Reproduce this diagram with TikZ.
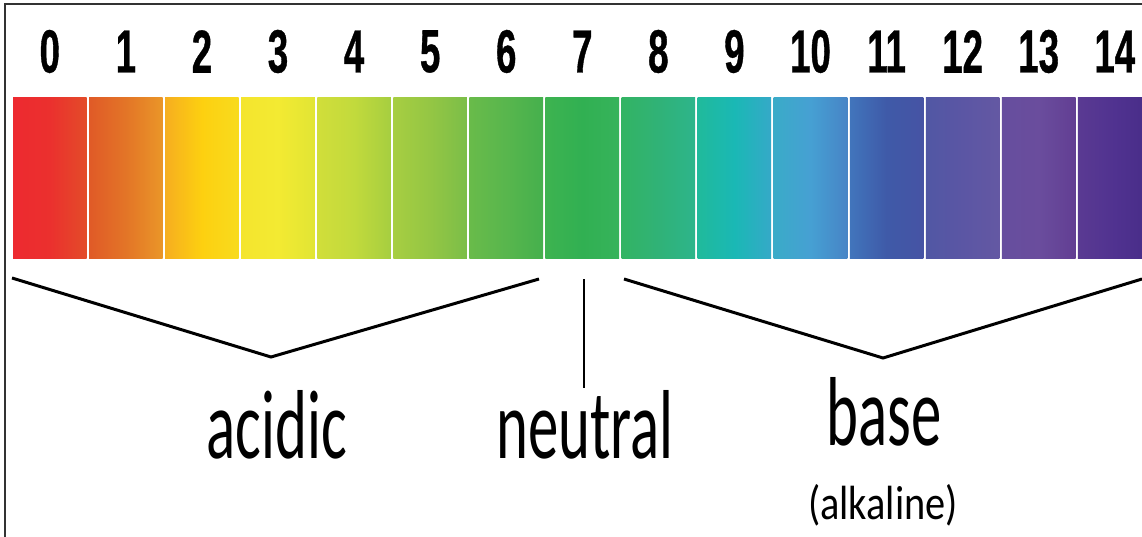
\documentclass[tikz,border=0pt]{standalone}
\usepackage{fontspec}
\newfontfamily\numfont{Liberation Sans}[FakeStretch=0.6,FakeBold=0.6]
\newfontfamily\labfont{Carlito}[FakeStretch=0.62]
\newfontfamily\smfont{Carlito}[FakeStretch=0.84]
\definecolor{c0l}{HTML}{ED2A30}\definecolor{c0m}{HTML}{EB302E}\definecolor{c0r}{HTML}{E34C29}
\definecolor{c1l}{HTML}{E05A27}\definecolor{c1m}{HTML}{E37527}\definecolor{c1r}{HTML}{EA9628}
\definecolor{c2l}{HTML}{F6AE20}\definecolor{c2m}{HTML}{FDD010}\definecolor{c2r}{HTML}{F8DB1E}
\definecolor{c3l}{HTML}{F4E52E}\definecolor{c3m}{HTML}{F3EA32}\definecolor{c3r}{HTML}{E1E534}
\definecolor{c4l}{HTML}{D1DE3A}\definecolor{c4m}{HTML}{C2DA3C}\definecolor{c4r}{HTML}{A6CE40}
\definecolor{c5l}{HTML}{A7CE41}\definecolor{c5m}{HTML}{94C644}\definecolor{c5r}{HTML}{7BBE48}
\definecolor{c6l}{HTML}{69BB4A}\definecolor{c6m}{HTML}{58B64D}\definecolor{c6r}{HTML}{45B04D}
\definecolor{c7l}{HTML}{3DB350}\definecolor{c7m}{HTML}{31B052}\definecolor{c7r}{HTML}{36B35B}
\definecolor{c8l}{HTML}{33B463}\definecolor{c8m}{HTML}{30B277}\definecolor{c8r}{HTML}{2DB58B}
\definecolor{c9l}{HTML}{20BA9B}\definecolor{c9m}{HTML}{1AB8B5}\definecolor{c9r}{HTML}{35A9C8}
\definecolor{c10l}{HTML}{3AABC8}\definecolor{c10m}{HTML}{46A0D3}\definecolor{c10r}{HTML}{4784C6}
\definecolor{c11l}{HTML}{4175BC}\definecolor{c11m}{HTML}{3F5AA8}\definecolor{c11r}{HTML}{4653A4}
\definecolor{c12l}{HTML}{5157A4}\definecolor{c12m}{HTML}{5B56A4}\definecolor{c12r}{HTML}{6458A3}
\definecolor{c13l}{HTML}{664E9E}\definecolor{c13m}{HTML}{6A4D9D}\definecolor{c13r}{HTML}{623E93}
\definecolor{c14l}{HTML}{5A3A92}\definecolor{c14m}{HTML}{503290}\definecolor{c14r}{HTML}{472C87}
\begin{document}
\begin{tikzpicture}[x=1pt,y=-1pt,
  num/.style={inner sep=0pt, font=\numfont\bfseries\fontsize{61}{63}\selectfont},
  biglab/.style={inner sep=0pt, anchor=base, font=\labfont\fontsize{98}{100}\selectfont},
  smalllab/.style={inner sep=0pt, anchor=base, font=\smfont\fontsize{48}{50}\selectfont},
  bracket/.style={line width=3pt, black, line join=miter},
  frameline/.style={line width=1.5pt, black!80}]
\useasboundingbox (0,0) rectangle (1142,537);
\fill[white] (0,0) rectangle (1142,537);
\begin{scope}
\clip (0,0) rectangle (1142,537);
\foreach \i in {0,...,14} {
  \pgfmathsetmacro\xl{13+76.07*\i}
  \shade[left color=c\i l, right color=c\i r, middle color=c\i m] (\xl,98) rectangle ++(73.6,160);
  \node[num] (n\i) at (\xl+36.8,51.5) {\i};
}
\end{scope}
\draw[frameline] (5,537) -- (5,4) -- (1142,4);
% brackets
\coordinate (aL) at (12,278);
\coordinate (aV) at (271,357);
\coordinate (aR) at (539,279);
\coordinate (nT) at (584,279);
\coordinate (nB) at (584,388);
\coordinate (bL) at (624,279);
\coordinate (bV) at (883,358);
\coordinate (bR) at (1142,279);
\draw[bracket] (aL) -- (aV) -- (aR);
\draw[bracket, line width=2.5pt] (nT) -- (nB);
\draw[bracket] (bL) -- (bV) -- (bR);
% labels
\node[biglab] (acid) at (277,458) {acidic};
\node[biglab] (neut) at (585,458) {neutral};
\node[biglab] (base) at (884,445) {base};
\node[smalllab] (alk) at (883,519) {(alkaline)};
\end{tikzpicture}
\end{document}
